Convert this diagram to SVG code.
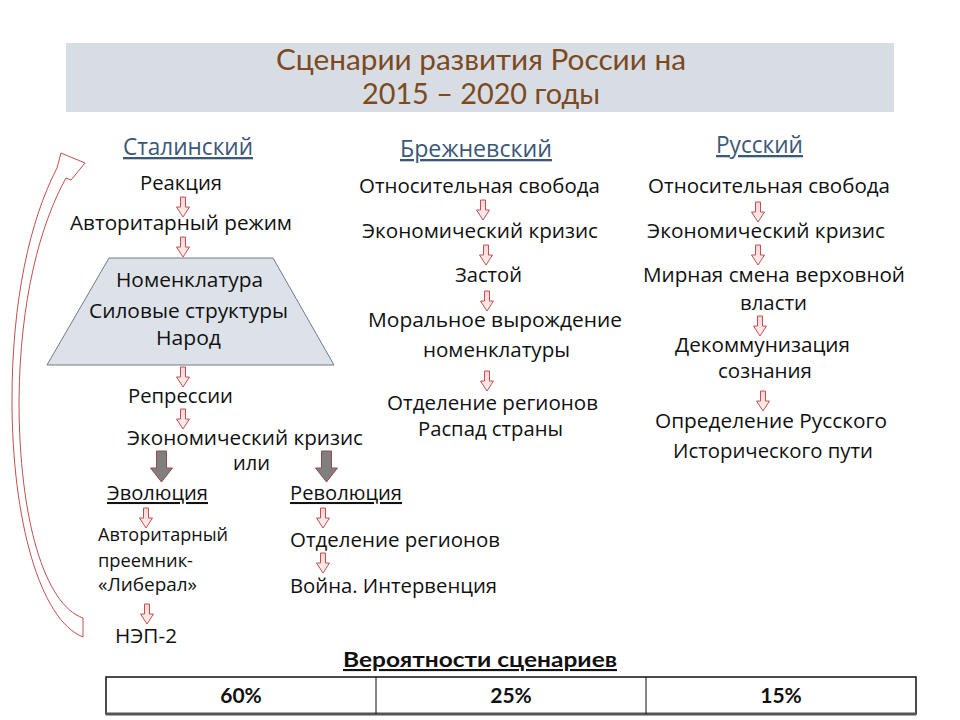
<svg xmlns="http://www.w3.org/2000/svg" xmlns:xlink="http://www.w3.org/1999/xlink" width="960" height="720" viewBox="0 0 960 720">
<defs>
<linearGradient id="pink" x1="0" y1="0" x2="0" y2="1">
<stop offset="0" stop-color="#f6d3d3"/>
<stop offset="1" stop-color="#fdf1f1"/>
</linearGradient>
<path id="sa" d="M-2.5,0 h5 v10 h4 l-6.5,10 l-6.5,-10 h4 z" fill="url(#pink)" stroke="#c0504d" stroke-width="1"/>
<path id="ga" d="M-5,0 h10 v17 h6 l-11,14 l-11,-14 h6 z" fill="#7f7f7f" stroke="#9a4a48" stroke-width="1"/>
</defs>
<style>
text{font-family:"Open Sans","Noto Sans","DejaVu Sans",sans-serif;font-size:20.5px;fill:#111;}
.c{text-anchor:middle;}
.h{font-size:23px;fill:#3b5878;text-decoration:underline;}
.sub{text-decoration:underline;}
.sm{font-size:19px;}
.title{font-family:Lato,"Open Sans",sans-serif;font-size:29px;fill:#7b4a1f;text-anchor:middle;}
.b{font-family:Lato,"Open Sans",sans-serif;font-weight:bold;font-size:21px;text-anchor:middle;}
</style>
<rect width="960" height="720" fill="#ffffff"/>

<g id="title">
<rect x="66" y="43" width="828" height="69" fill="#d8dde4"/>
<text class="title" x="481" y="70" textLength="410" lengthAdjust="spacingAndGlyphs">Сценарии развития России на</text>
<text class="title" x="481" y="104" textLength="238" lengthAdjust="spacingAndGlyphs">2015 – 2020 годы</text>
</g>

<g id="stalin">
<text class="h c" x="188" y="155" textLength="130" lengthAdjust="spacingAndGlyphs">Сталинский</text>
<g id="s1"><text class="c" x="181" y="190" textLength="82" lengthAdjust="spacingAndGlyphs">Реакция</text></g>
<g id="s2"><text class="c" x="181" y="230" textLength="222" lengthAdjust="spacingAndGlyphs">Авторитарный режим</text></g>
<g id="s3">
<polygon points="109,258 273,258 334,365 47,365" fill="#dde2e9" stroke="#6d7b8a" stroke-width="1"/>
<text class="c" x="189.5" y="287" textLength="147" lengthAdjust="spacingAndGlyphs">Номенклатура</text>
<text class="c" x="188.5" y="318" textLength="199" lengthAdjust="spacingAndGlyphs">Силовые структуры</text>
<text class="c" x="188.5" y="345" textLength="65" lengthAdjust="spacingAndGlyphs">Народ</text>
</g>
<g id="s4"><text class="c" x="180.5" y="403" textLength="105" lengthAdjust="spacingAndGlyphs">Репрессии</text></g>
<g id="s5"><text class="c" x="245" y="445" textLength="236" lengthAdjust="spacingAndGlyphs">Экономический кризис</text></g>
<g id="s6"><text class="c" x="251.5" y="470" textLength="37" lengthAdjust="spacingAndGlyphs">или</text></g>
<g id="s7"><text class="c sub" x="157.5" y="500" textLength="101" lengthAdjust="spacingAndGlyphs">Эволюция</text></g>
<g id="s8"><text class="c sub" x="346" y="500" textLength="112" lengthAdjust="spacingAndGlyphs">Революция</text></g>
<g id="s9">
<text class="sm" x="98" y="541" textLength="130" lengthAdjust="spacingAndGlyphs">Авторитарный</text>
<text class="sm" x="98" y="567" textLength="95" lengthAdjust="spacingAndGlyphs">преемник-</text>
<text class="sm" x="98" y="591" textLength="99" lengthAdjust="spacingAndGlyphs">«Либерал»</text>
</g>
<g id="s10"><text x="115" y="643" textLength="62" lengthAdjust="spacingAndGlyphs">НЭП-2</text></g>
<g id="s11"><text x="290" y="547" textLength="210" lengthAdjust="spacingAndGlyphs">Отделение регионов</text></g>
<g id="s12"><text x="290" y="593" textLength="207" lengthAdjust="spacingAndGlyphs">Война. Интервенция</text></g>
</g>

<g id="brezhnev">
<text class="h c" x="476" y="157" textLength="152" lengthAdjust="spacingAndGlyphs">Брежневский</text>
<g id="b1"><text class="c" x="479.5" y="193" textLength="241" lengthAdjust="spacingAndGlyphs">Относительная свобода</text></g>
<g id="b2"><text class="c" x="480" y="238" textLength="236" lengthAdjust="spacingAndGlyphs">Экономический кризис</text></g>
<g id="b3"><text class="c" x="488.5" y="282" textLength="67" lengthAdjust="spacingAndGlyphs">Застой</text></g>
<g id="b4"><text class="c" x="495" y="327" textLength="254" lengthAdjust="spacingAndGlyphs">Моральное вырождение</text></g>
<g id="b5"><text class="c" x="496.5" y="357" textLength="147" lengthAdjust="spacingAndGlyphs">номенклатуры</text></g>
<g id="b6"><text class="c" x="492.5" y="410" textLength="211" lengthAdjust="spacingAndGlyphs">Отделение регионов</text></g>
<g id="b7"><text class="c" x="490.5" y="436" textLength="145" lengthAdjust="spacingAndGlyphs">Распад страны</text></g>
</g>

<g id="russian">
<text class="h c" x="759.5" y="153" textLength="87" lengthAdjust="spacingAndGlyphs">Русский</text>
<g id="r1"><text class="c" x="769" y="193" textLength="242" lengthAdjust="spacingAndGlyphs">Относительная свобода</text></g>
<g id="r2"><text class="c" x="766" y="238" textLength="238" lengthAdjust="spacingAndGlyphs">Экономический кризис</text></g>
<g id="r3"><text class="c" x="774" y="282" textLength="262" lengthAdjust="spacingAndGlyphs">Мирная смена верховной</text></g>
<g id="r4"><text class="c" x="773.5" y="310" textLength="67" lengthAdjust="spacingAndGlyphs">власти</text></g>
<g id="r5"><text class="c" x="762.5" y="352" textLength="175" lengthAdjust="spacingAndGlyphs">Декоммунизация</text></g>
<g id="r6"><text class="c" x="765" y="378" textLength="94" lengthAdjust="spacingAndGlyphs">сознания</text></g>
<g id="r7"><text class="c" x="771" y="428" textLength="232" lengthAdjust="spacingAndGlyphs">Определение Русского</text></g>
<g id="r8"><text class="c" x="773" y="458" textLength="200" lengthAdjust="spacingAndGlyphs">Исторического пути</text></g>
</g>

<g id="connectors">
<use xlink:href="#sa" x="183" y="197"/>
<use xlink:href="#sa" x="183" y="237"/>
<use xlink:href="#sa" x="183" y="367"/>
<use xlink:href="#sa" x="183" y="409"/>
<use xlink:href="#sa" x="146" y="508"/>
<use xlink:href="#sa" x="147" y="604"/>
<use xlink:href="#sa" x="323" y="508"/>
<use xlink:href="#sa" x="323" y="553"/>
<use xlink:href="#sa" x="483" y="200"/>
<use xlink:href="#sa" x="486" y="245"/>
<use xlink:href="#sa" x="487" y="291"/>
<use xlink:href="#sa" x="487" y="371"/>
<use xlink:href="#sa" x="758" y="202"/>
<use xlink:href="#sa" x="758" y="245"/>
<use xlink:href="#sa" x="760" y="316"/>
<use xlink:href="#sa" x="763" y="391"/>
<use xlink:href="#ga" x="161.5" y="451"/>
<use xlink:href="#ga" x="326.5" y="451"/>
<path id="loop" d="M83,637 C40,620 12,520 12,400 C12,300 30,220 57,168 L61,153 L85,163 L71,180 L66,178 C40,225 20,300 19,400 C19,520 45,605 83,618 Z" fill="#ffffff" stroke="#c0504d" stroke-width="1"/>
</g>

<g id="probabilities">
<text class="b sub" x="480" y="667" textLength="274" lengthAdjust="spacingAndGlyphs">Вероятности сценариев</text>
<rect x="106" y="677" width="810" height="37" fill="#ffffff" stroke="#111" stroke-width="1.5"/>
<line x1="106" y1="714" x2="916" y2="714" stroke="#555" stroke-width="3"/>
<line x1="376" y1="677" x2="376" y2="714" stroke="#111" stroke-width="1"/>
<line x1="646" y1="677" x2="646" y2="714" stroke="#111" stroke-width="1"/>
<text class="b" x="241" y="703">60%</text>
<text class="b" x="511" y="703">25%</text>
<text class="b" x="781" y="703">15%</text>
</g>
</svg>
